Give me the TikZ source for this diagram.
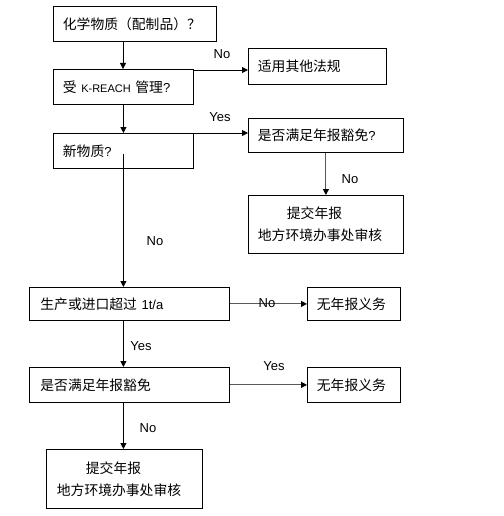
\documentclass[tikz,border=0pt]{standalone}
\usepackage{fontspec}
\setmainfont{Liberation Sans}
\newfontfamily\cjk{Noto Sans CJK SC}
\usetikzlibrary{arrows.meta}
\newcommand{\lat}[2][11pt]{{\fontspec{Liberation Sans}\fontsize{#1}{#1}\selectfont #2}}
\begin{document}
\begin{tikzpicture}[x=1pt,y=-1pt,
  box/.style={draw, line width=0.8pt, anchor=north west, inner xsep=9.5pt, inner ysep=0pt,
     align=left, font=\cjk\fontsize{13.8pt}{22pt}\selectfont},
  arr/.style={draw, line width=0.8pt, -{Triangle[length=6pt,width=6pt]}},
  garr/.style={draw=black!65, line width=1.1pt, -{Triangle[length=6pt,width=6pt,color=black]}},
  lbl/.style={font=\fontsize{13pt}{13pt}\selectfont, inner sep=0pt}]
\useasboundingbox (0,0) rectangle (503,516);
% boxes
\node[box, text width=144pt, minimum height=35pt] (b1) at (53,6) {化学物质（配制品）？};
\node[box, text width=121pt, minimum height=35pt] (b2) at (53,69) {受 \lat{K-REACH} 管理\lat[13pt]{?}};
\node[box, text width=121pt, minimum height=35pt] (b3) at (53,133) {新物质\lat[13pt]{?}};
\node[box, text width=119pt, minimum height=36pt] (app) at (248,48) {适用其他法规};
\node[box, text width=136pt, minimum height=34pt] (ex1) at (248,118) {是否满足年报豁免\lat[13pt]{?}};
\node[box, text width=136pt, minimum height=58pt] (sub1) at (248,195) {\hspace{29pt}提交年报\\地方环境办事处审核};
\node[box, text width=178pt, minimum height=33pt, inner xsep=11pt] (b4) at (29,287) {生产或进口超过 \lat[13pt]{1t/a}};
\node[box, text width=74pt, minimum height=33pt] (nr1) at (307,287) {无年报义务};
\node[box, text width=178pt, minimum height=35pt, inner xsep=11pt] (b5) at (29,367) {是否满足年报豁免};
\node[box, text width=74pt, minimum height=35pt] (nr2) at (307,367) {无年报义务};
\node[box, text width=135pt, minimum height=59pt, inner xsep=10.5pt] (sub2) at (46,449) {\hspace{29pt}提交年报\\地方环境办事处审核};
% connectors
\coordinate (m1) at (123,41);
\draw[arr] (m1) -- (m1 |- b2.north);
\draw[arr] (b2.south) -- (b3.north);
\draw[arr] ([yshift=-1pt]b2.north east) -- ([yshift=-1pt]b2.north east -| app.west);
\draw[arr] (b3.north east) -- (b3.north east -| ex1.west);
\draw[garr] (ex1.south) -- (sub1.north);
\draw[arr] ([yshift=-3pt]b3.center) -- (b3.center |- b4.north);
\draw[garr] (b4.east) -- (b4.east -| nr1.west);
\draw[arr] (b4.south -| b3.center) -- (b5.north -| b3.center);
\draw[garr] (b5.east) -- (b5.east -| nr2.west);
\draw[arr] (b5.south -| b3.center) -- (sub2.north -| b3.center);
% labels
\node[lbl] (l1) at (222,54) {No};
\node[lbl] (l2) at (220,117) {Yes};
\node[lbl] (l3) at (350,179) {No};
\node[lbl] (l4) at (155,241) {No};
\node[lbl] (l5) at (267,303) {No};
\node[lbl] (l6) at (141,346) {Yes};
\node[lbl] (l7) at (274,366) {Yes};
\node[lbl] (l8) at (148,428) {No};
\end{tikzpicture}
\end{document}
